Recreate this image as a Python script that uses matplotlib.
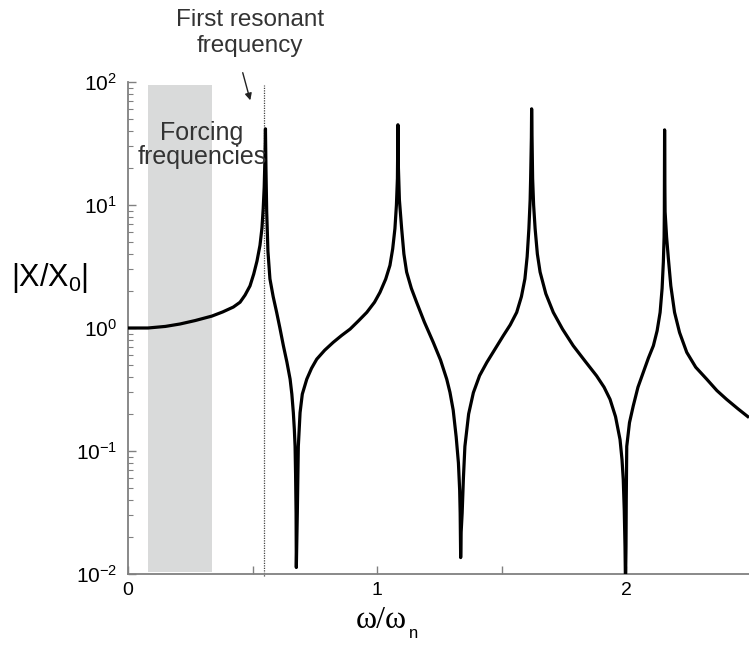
import numpy as np
import matplotlib.pyplot as plt

plt.rcParams['font.family'] = ['Liberation Sans', 'DejaVu Sans']
plt.rcParams['mathtext.fontset'] = 'custom'
plt.rcParams['mathtext.rm'] = 'Liberation Sans'
plt.rcParams['mathtext.it'] = 'Liberation Sans'

# frequency ratio and amplitude ratio
w_ratio = [0.000, 0.080, 0.150, 0.209, 0.270, 0.337, 0.380, 0.423, 0.450, 0.470,
           0.490, 0.505, 0.518, 0.530, 0.538, 0.543, 0.547, 0.550, 0.552,
           0.554, 0.557, 0.562, 0.570, 0.583, 0.597, 0.610, 0.624, 0.638, 0.651,
           0.658, 0.664, 0.668, 0.671, 0.673, 0.675, 0.676,
           0.680, 0.682, 0.684, 0.691, 0.700, 0.718, 0.737, 0.758, 0.790, 0.824,
           0.858, 0.892, 0.925, 0.959, 0.990, 1.012, 1.035, 1.052, 1.063, 1.072,
           1.078, 1.082, 1.084,
           1.086, 1.090, 1.099, 1.108, 1.119, 1.138, 1.159, 1.190, 1.226, 1.255,
           1.280, 1.293, 1.306, 1.318, 1.327, 1.332, 1.334, 1.336,
           1.338, 1.342, 1.347, 1.353, 1.368, 1.387, 1.412, 1.441, 1.475, 1.507,
           1.535, 1.561, 1.580, 1.594, 1.603, 1.610, 1.615, 1.617, 1.620, 1.621,
           1.623, 1.625, 1.629, 1.635, 1.644, 1.655, 1.678, 1.708, 1.745, 1.788,
           1.835, 1.882, 1.912, 1.936, 1.958, 1.976, 1.984, 1.989, 1.993, 1.996,
           1.998,
           2.000, 2.001, 2.003, 2.014, 2.029, 2.048, 2.069, 2.090, 2.110, 2.125,
           2.137, 2.145, 2.150, 2.153, 2.154, 2.155,
           2.156, 2.157, 2.163, 2.170, 2.180, 2.195, 2.215, 2.244, 2.280, 2.324,
           2.365, 2.404, 2.450, 2.494]
amp_ratio = [1.00, 1.00, 1.03, 1.078, 1.15, 1.25, 1.35, 1.48, 1.62, 1.85,
             2.2, 2.75, 3.5, 4.7, 6.5, 9.36, 14.0, 24.0, 41.6,
             20.0, 8.8, 4.2, 2.51, 1.8, 1.34, 1.0, 0.718, 0.53, 0.384,
             0.29, 0.205, 0.15, 0.109, 0.065, 0.0313, 0.0113,
             0.0313, 0.06, 0.109, 0.205, 0.29, 0.384, 0.47, 0.558, 0.66, 0.764,
             0.87, 0.98, 1.14, 1.34, 1.62, 1.95, 2.5, 3.23, 4.4, 6.43,
             10.0, 16.4, 44.9,
             20.0, 11.0, 6.43, 4.0, 2.85, 2.1, 1.62, 1.12, 0.764, 0.55,
             0.384, 0.30, 0.215, 0.13, 0.080, 0.048, 0.0313, 0.0136,
             0.022, 0.0313, 0.06, 0.109, 0.2, 0.298, 0.41, 0.525, 0.68, 0.865,
             1.06, 1.34, 1.8, 2.51, 3.8, 6.43, 11.0, 16.4, 35.0, 60.5,
             30.0, 16.4, 10.0, 6.43, 4.0, 2.85, 1.9, 1.34, 0.98, 0.718,
             0.54, 0.408, 0.33, 0.263, 0.19, 0.124, 0.085, 0.0585, 0.033, 0.0167,
             0.008,
             0.0167, 0.04, 0.109, 0.17, 0.232, 0.33, 0.435, 0.57, 0.718, 0.95,
             1.34, 2.1, 3.44, 5.5, 8.8, 40.8,
             15.0, 8.8, 5.5, 3.7, 2.2, 1.34, 0.92, 0.634, 0.48, 0.384,
             0.31, 0.263, 0.22, 0.187]

forcing_band = (0.08, 0.337)
first_resonance = 0.546

fig = plt.figure(figsize=(7.49, 6.46), dpi=100)
ax = fig.add_axes([128/749, 72/646, 2.5*249/749, 492/646])

ax.fill_between(forcing_band, 0.0104, 95, color='#d9dada', lw=0, zorder=1)
ax.plot([first_resonance, first_resonance], [0.0096, 95], color='#444444', lw=0.9,
        ls=(0, (1, 1)), clip_on=False, zorder=2)
ax.plot(w_ratio, amp_ratio, color='black', lw=2.3, zorder=3,
        solid_joinstyle='round', solid_capstyle='butt')

ax.set_yscale('log')
ax.set_ylim(1e-2, 1e2)
ax.set_xlim(0, 2.5)
ax.set_xticks([0, 0.5, 1, 1.5, 2, 2.5])
ax.set_xticklabels(['0', '', '1', '', '2', ''])
ax.set_yticks([1e-2, 1e-1, 1e0, 1e1, 1e2])
ax.set_yticklabels([r'$10^{-2}$', r'$10^{-1}$', r'$10^{0}$', r'$10^{1}$', r'$10^{2}$'])

for side in ['top', 'right']:
    ax.spines[side].set_visible(False)
for side in ['left', 'bottom']:
    ax.spines[side].set_color('#808080')
    ax.spines[side].set_linewidth(1.3)

ax.tick_params(axis='x', direction='in', length=6, width=1, color='#808080',
               labelsize=14, pad=6)
ax.tick_params(axis='y', which='major', direction='in', length=6, width=1,
               color='#808080', labelsize=15, pad=8)
ax.tick_params(axis='y', which='minor', direction='in', length=3.5, width=0.8,
               color='#808080')

fig.text(50/749, 1 - 278/646, r'$|X/X_0|$', fontsize=22, ha='center', va='center')
# x label: serif omegas with a small sans subscript
fig.text(381/749, 1 - 620/646, 'ω/ω', fontsize=23, ha='center', va='center',
         family='Liberation Serif')
fig.text(409/749, 1 - 633/646, 'n', fontsize=12, ha='left', va='center')

fig.text(202/749, 1 - 145/646, 'Forcing\nfrequencies', fontsize=18, ha='center',
         va='center', color='#333333', linespacing=1.05)
fig.text(250/749, 1 - 33/646, 'First resonant\nfrequency', fontsize=17.5, ha='center',
         va='center', color='#333333', linespacing=1.2)
fig.add_artist(plt.Annotation('', xy=(251/749, 1 - 103/646), xytext=(242/749, 1 - 70/646),
                              xycoords='figure fraction', textcoords='figure fraction',
                              arrowprops=dict(arrowstyle='-|>', color='#222222', lw=1,
                                              mutation_scale=10)))

plt.savefig('out.png', dpi=100)
